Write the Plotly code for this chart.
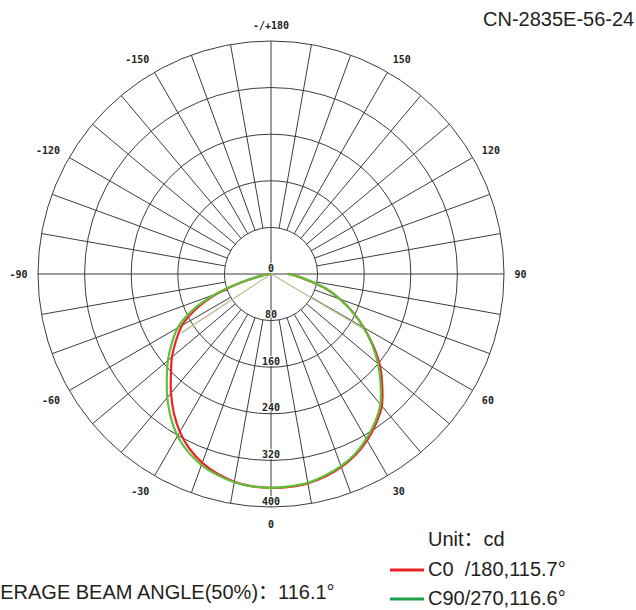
import plotly.graph_objects as go

# ---------------- data ----------------
ANGLES = [0, 5, 10, 15, 20, 25, 30, 35, 40, 45, 50, 55, 60, 65, 70, 75, 80, 85, 90]

# C0/180 plane (red): right half = C0, left half = C180
C0 = [367, 367, 365, 360, 353, 343, 330, 314, 296, 270, 244, 214, 184, 155, 126, 98, 66, 46, 30]
C180 = [367, 366, 362, 355, 345, 331, 313, 291, 267, 243, 222, 199, 176, 142, 98, 45, 16, 5, 1]
# C90/270 plane (green): right half = C90, left half = C270
C90 = [367, 366, 364, 358, 351, 341, 327, 311, 292, 266, 240, 212, 183, 154, 126, 98, 68, 46, 28]
C270 = [367, 366, 363, 357, 349, 337, 321, 300, 277, 253, 231, 208, 185, 150, 102, 48, 16, 5, 1]

# 50% beam-angle half-angles (left, right) and half-peak intensity
BEAM_C0 = (-56.5, 59.2)
BEAM_C90 = (-57.0, 59.6)
HALF_PEAK = 183.5

RING_VALUES = [80, 160, 240, 320, 400]
RING_LABELS = ["0", "80", "160", "240", "320", "400"]
RING_LABEL_R = [0, 80, 160, 240, 320, 400]
ANG_TICKS = [0, 30, 60, 90, 120, 150, 180, 210, 240, 270, 300, 330]
ANG_TEXT = ["0", "30", "60", "90", "120", "150", "-/+180", "-150", "-120", "-90", "-60", "-30"]
SPOKE_STEP = 10

TITLE = "CN-2835E-56-24"
UNIT = "Unit\uff1acd"
LEG_C0 = "C0\u00a0\u00a0/180,115.7\u00b0"
LEG_C90 = "C90/270,116.6\u00b0"
AVG_TEXT = "AVERAGE BEAM ANGLE(50%)\uff1a116.1\u00b0"

GRID = "#3c3c3c"
RED = "#ec2227"
GREEN = "#62bf3c"
LEG_GREEN = "#1ea04a"

W, H = 636, 610
CX, CY, R = 271, 274, 233


def full_curve(right, left):
    th = [-a for a in reversed(ANGLES)] + ANGLES[1:]
    rr = list(reversed(left)) + right[1:]
    return th, rr


fig = go.Figure()

# spokes (from first ring outwards) and the two full axes
sr, st = [], []
for a in range(0, 360, SPOKE_STEP):
    start = 0 if a % 90 == 0 else RING_VALUES[0]
    sr += [start, RING_VALUES[-1], None]
    st += [a, a, None]
fig.add_trace(go.Scatterpolar(r=sr, theta=st, mode="lines",
                              line=dict(color=GRID, width=1), hoverinfo="skip", showlegend=False))

# beam-angle lines
for (bl, br), col in [(BEAM_C0, "#f39a9a"), (BEAM_C90, "#9ed48a")]:
    fig.add_trace(go.Scatterpolar(r=[HALF_PEAK, 0, HALF_PEAK], theta=[bl, 0, br], mode="lines",
                                  line=dict(color=col, width=1), hoverinfo="skip", showlegend=False))

# curves
th, rr = full_curve(C0, C180)
fig.add_trace(go.Scatterpolar(r=rr, theta=th, mode="lines",
                              line=dict(color=RED, width=2.2, shape="spline", smoothing=1),
                              showlegend=False))
th, rr = full_curve(C90, C270)
fig.add_trace(go.Scatterpolar(r=rr, theta=th, mode="lines",
                              line=dict(color=GREEN, width=2.2, shape="spline", smoothing=1),
                              showlegend=False))

# radial labels along the 0 axis
fig.add_trace(go.Scatterpolar(r=RING_LABEL_R, theta=[0] * len(RING_LABEL_R), mode="text",
                              text=RING_LABELS, textposition="top center",
                              textfont=dict(family="DejaVu Sans Mono", size=10, color="#222",
                                            weight="bold",
                                            shadow="1px 0 0 white, -1px 0 0 white, 0 1px 0 white, 0 -1px 0 white"),
                              hoverinfo="skip", showlegend=False))

x0, x1 = (CX - R) / W, (CX + R) / W
y0, y1 = 1 - (CY + R) / H, 1 - (CY - R) / H

fig.update_layout(
    width=W, height=H,
    margin=dict(l=0, r=0, t=0, b=0),
    paper_bgcolor="white",
    showlegend=False,
    polar=dict(
        domain=dict(x=[x0, x1], y=[y0, y1]),
        bgcolor="white",
        radialaxis=dict(range=[0, 400], tickvals=RING_VALUES, showticklabels=False, ticks="",
                        showline=False, gridcolor=GRID, gridwidth=1),
        angularaxis=dict(rotation=-90, direction="counterclockwise", tickmode="array",
                         tickvals=ANG_TICKS, ticktext=ANG_TEXT, showgrid=False,
                         showline=True, linecolor=GRID, linewidth=1,
                         ticks="outside", ticklen=8, tickcolor="rgba(0,0,0,0)",
                         tickfont=dict(family="DejaVu Sans Mono", size=10, color="#222", weight="bold")),
    ),
    font=dict(family="Liberation Sans, Arial, Noto Sans CJK SC"),
)

TF = dict(family="Liberation Sans, Arial, Noto Sans CJK SC", size=20, color="#231f20")


def px(x):
    return x / W


def py(y):
    return 1 - y / H


fig.add_annotation(x=1.0, y=py(19), xref="paper", yref="paper", text=TITLE, showarrow=False,
                   xanchor="right", yanchor="middle", font=TF)
fig.add_annotation(x=px(426), y=py(539), xref="paper", yref="paper", text=UNIT, showarrow=False,
                   xanchor="left", yanchor="middle", font=TF)
fig.add_annotation(x=px(426), y=py(569), xref="paper", yref="paper", text=LEG_C0, showarrow=False,
                   xanchor="left", yanchor="middle", font=TF)
fig.add_annotation(x=px(426), y=py(598), xref="paper", yref="paper", text=LEG_C90, showarrow=False,
                   xanchor="left", yanchor="middle", font=TF)
fig.add_annotation(x=px(-27), y=py(592), xref="paper", yref="paper", text=AVG_TEXT, showarrow=False,
                   xanchor="left", yanchor="middle", font=TF)

fig.add_shape(type="line", xref="paper", yref="paper", x0=px(390), x1=px(424), y0=py(570), y1=py(570),
              line=dict(color=RED, width=3))
fig.add_shape(type="line", xref="paper", yref="paper", x0=px(390), x1=px(424), y0=py(599), y1=py(599),
              line=dict(color=LEG_GREEN, width=3))

fig.write_html("out.html", config={"displayModeBar": False},
               post_script="document.body.style.margin='0';document.body.style.overflow='hidden';")
